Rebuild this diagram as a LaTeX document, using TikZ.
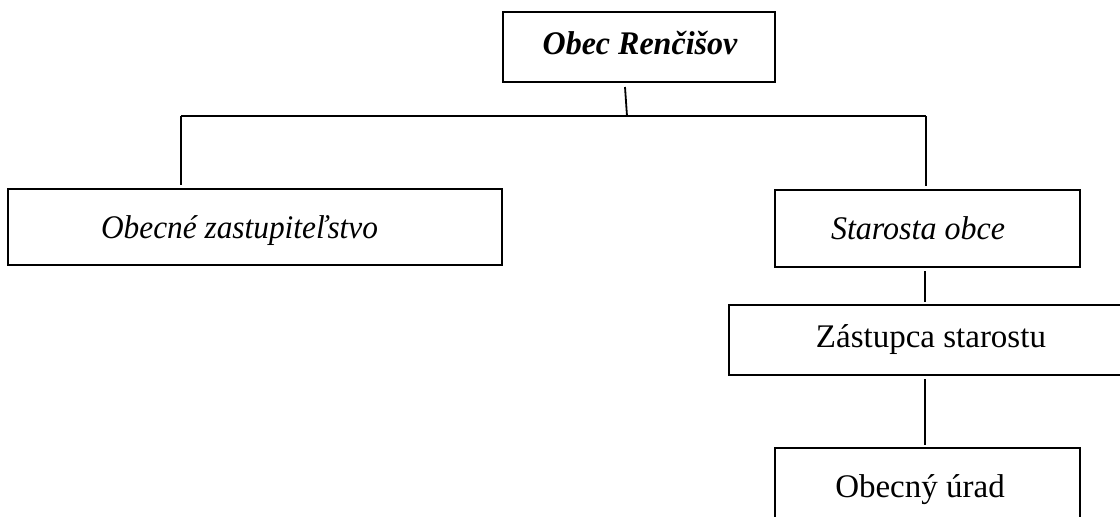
\documentclass[tikz,border=0pt]{standalone}
\usepackage{graphicx}
\usepackage{fontspec}
\setmainfont{Liberation Serif}
\begin{document}
\begin{tikzpicture}[x=1pt,y=-1pt,
  box/.style={draw=black,line width=2pt,rectangle,inner sep=0pt,anchor=center,
    text height=22pt,text depth=0pt,font=\fontsize{33}{40}\selectfont},
  conn/.style={line width=1.8pt,black}]
\useasboundingbox (0,0) rectangle (1120,517);
\clip (0,0) rectangle (1120,517);
\node[box,minimum width=272pt,minimum height=70pt,font=\fontsize{33}{40}\selectfont\bfseries\itshape] (top) at (639,47) {\raisebox{3.5pt}{\hspace*{2pt}\scalebox{0.97}[1]{Obec Renčišov}}};
\node[box,minimum width=494pt,minimum height=76pt,font=\fontsize{33}{40}\selectfont\itshape] (left) at (255,227) {\scalebox{0.95}[1]{Obecné zastupiteľstvo}\hspace*{31pt}};
\node[box,minimum width=305pt,minimum height=77pt,font=\fontsize{33}{40}\selectfont\itshape] (star) at (927.5,228.5) {\scalebox{0.97}[1]{Starosta obce}\hspace*{19pt}};
\node[box,minimum width=393pt,minimum height=70pt] (zast) at (925.5,340) {\raisebox{4pt}{\hspace*{11pt}Zástupca starostu}};
\node[box,minimum width=305pt,minimum height=76pt] (urad) at (927.5,486) {Obecný úrad\hspace*{15pt}};
\coordinate (jt) at (627,116);
\coordinate (jl) at (181,116);
\coordinate (jr) at (926,116);
\draw[conn] ([xshift=-14pt,yshift=-4pt]top.south) -- (jt);
\draw[conn] (jl) -- (jr);
\draw[conn] (jl) -- ([yshift=3pt]left.north -| jl);
\draw[conn] (jr) -- ([yshift=3pt]star.north -| jr);
\draw[conn] ([yshift=-3pt]star.south -| 925,0) -- ([yshift=2pt]zast.north -| 925,0);
\draw[conn] ([yshift=-3pt]zast.south -| 925,0) -- ([yshift=2pt]urad.north -| 925,0);
\end{tikzpicture}
\end{document}
